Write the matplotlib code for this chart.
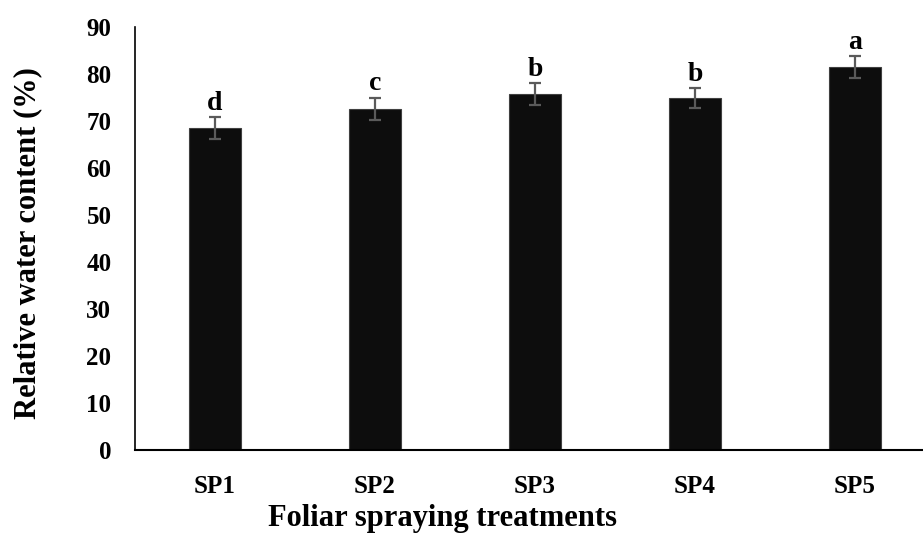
import matplotlib
matplotlib.use("Agg")
import matplotlib.pyplot as plt

treatments = ["SP1", "SP2", "SP3", "SP4", "SP5"]
rwc = [68.5, 72.6, 75.7, 74.9, 81.5]
rwc_err = [2.3, 2.3, 2.3, 2.1, 2.3]
letters = ["d", "c", "b", "b", "a"]

plt.rcParams['font.family'] = ['Liberation Serif', 'DejaVu Serif']
plt.rcParams['font.weight'] = 'bold'

fig = plt.figure(figsize=(9.23, 5.35), dpi=100)
ax = fig.add_axes([0.1463, 0.159, 0.8667, 0.7907])

x = list(range(len(treatments)))
ax.bar(x, rwc, width=0.325, color='#0d0d0d', edgecolor='#404040', linewidth=0.8,
       yerr=rwc_err, capsize=4,
       error_kw=dict(ecolor='#5a5a5a', elinewidth=1.6, capthick=1.6))

for xi, v, e, lab in zip(x, rwc, rwc_err, letters):
    ax.annotate(lab, (xi, v + e), xytext=(0, 1), textcoords='offset points',
                ha='center', va='bottom', fontsize=20, fontweight='bold')

ax.set_xlim(-0.5, 4.5)
ax.set_ylim(0, 90)
ax.set_yticks(range(0, 91, 10))
ax.set_xticks(x)
ax.set_xticklabels(treatments)
ax.tick_params(axis='both', length=0, labelsize=18)
ax.tick_params(axis='y', pad=17)
ax.tick_params(axis='x', pad=18)

for side in ['top', 'right']:
    ax.spines[side].set_visible(False)
ax.spines['left'].set_linewidth(1.2)
ax.spines['bottom'].set_linewidth(1.5)

ax.set_ylabel('Relative water content (%)', fontsize=22, fontweight='bold')
ax.set_xlabel('Foliar spraying treatments', fontsize=22, fontweight='bold')
# the reference places the titles a bit off-centre
ax.yaxis.set_label_coords(-0.116, 0.49)
ax.xaxis.set_label_coords(0.384, -0.127)

fig.savefig('out.png', dpi=100)
